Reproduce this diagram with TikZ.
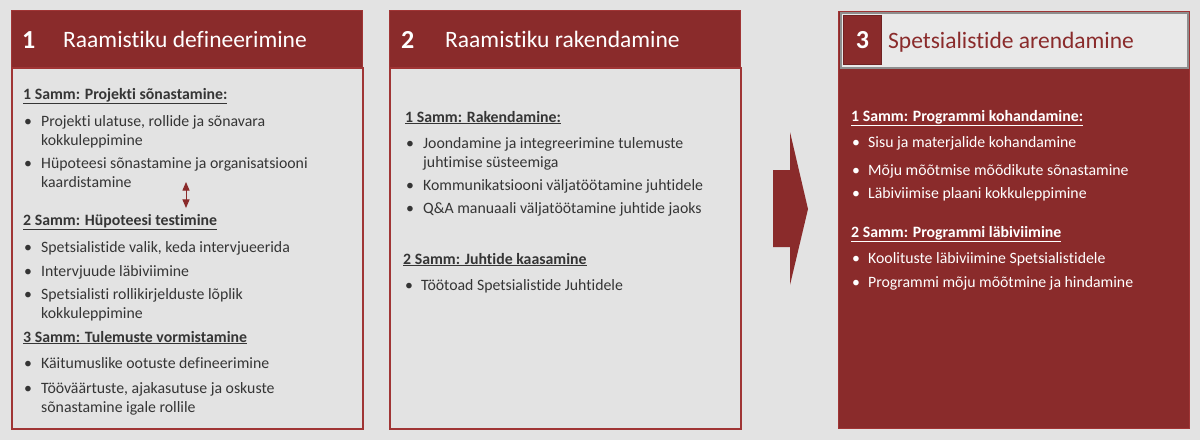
\documentclass[tikz,border=0pt]{standalone}
\usepackage{fontspec}
\setmainfont[Ligatures=NoCommon]{Carlito}
\usepackage{tikz}
\usetikzlibrary{arrows}
\definecolor{rahmred}{HTML}{8A2B2B}
\definecolor{framered}{HTML}{A03535}
\definecolor{pagegray}{HTML}{E3E3E3}
\definecolor{textgray}{HTML}{353535}
\definecolor{headgray}{HTML}{E9E9E9}
\definecolor{linegray}{HTML}{8E8E8E}
\tikzstyle{headbar}=[draw=framered,line width=1pt,fill=rahmred,anchor=north west,inner sep=0pt,minimum width=351pt,minimum height=57pt]
\tikzstyle{panel}=[draw=framered,line width=2pt,fill=pagegray,anchor=north west,inner sep=0pt,minimum width=351pt,minimum height=361pt]
\tikzstyle{bignum}=[font=\fontsize{26}{28}\selectfont\bfseries,text=white,anchor=base west,inner sep=0pt]
\tikzstyle{headtext}=[font=\fontsize{23.5}{26}\selectfont,text=white,anchor=base west,inner sep=0pt]
\tikzstyle{stephead}=[font=\fontsize{15.8}{19}\selectfont\bfseries,text=textgray,anchor=base west,inner sep=0pt]
\tikzstyle{bulletline}=[font=\fontsize{15.8}{19}\selectfont,text=textgray,anchor=base west,inner sep=0pt,align=left]
\tikzstyle{bulletdot}=[font=\fontsize{15.8}{19}\selectfont,text=textgray,anchor=base west,inner sep=0pt]

\begin{document}
\begin{tikzpicture}[x=1pt,y=-1pt]

    \fill[pagegray] (0,0) rectangle (1200,440);
    \useasboundingbox (0,0) rectangle (1200,440);

    % panel 1
    \node[panel] (body1) at (11,67) {};
    \node[headbar] (head1) at (11,10) {};
    \node[bignum] (num1) at (22,48) {1};
    \node[headtext] (title1) at (63,47) {Raamistiku defineerimine};

    \node[stephead] (s11) at (23,99) {\underline{1 Samm: Projekti sõnastamine:}};
    \node[stephead] (s12) at (23,225) {\underline{2 Samm: Hüpoteesi testimine}};
    \node[stephead] (s13) at (23,342) {\underline{3 Samm: Tulemuste vormistamine}};

    % first line / last line baselines
    \foreach \y/\yl/\name/\txt in {126/145/a1/{Projekti ulatuse, rollide ja sõnavara\\kokkuleppimine},
        168/187/a2/{Hüpoteesi sõnastamine ja organisatsiooni\\kaardistamine},
        252/252/a3/{Spetsialistide valik, keda intervjueerida},
        276/276/a4/{Intervjuude läbiviimine},
        299/318/a5/{Spetsialisti rollikirjelduste lõplik\\kokkuleppimine},
        368/368/a6/{Käitumuslike ootuste defineerimine},
        393/412/a7/{Tööväärtuste, ajakasutuse ja oskuste\\sõnastamine igale rollile}}
    {
        \node[bulletdot] (\name d) at (24,\y) {•};
        \node[bulletline] (\name) at (41,\yl) {\txt};
    }

    \coordinate (up) at (186,182);
    \coordinate (dn) at (186,208);
    \draw[<->, >=triangle 45, rahmred, line width=1pt] (up) -- (dn);

    % panel 2
    \node[panel] (body2) at (389,67) {};
    \node[headbar] (head2) at (389,10) {};
    \node[bignum] (num2) at (401,48) {2};
    \node[headtext] (title2) at (445,47) {Raamistiku rakendamine};

    \node[stephead] (s21) at (405,122) {\underline{1 Samm: Rakendamine:}};
    \node[stephead] (s22) at (403,264) {\underline{2 Samm: Juhtide kaasamine}};

    \foreach \y/\yl/\name/\txt in {148/167/b1/{Joondamine ja integreerimine tulemuste\\juhtimise süsteemiga},
        190/190/b2/{Kommunikatsiooni väljatöötamine juhtidele},
        213/213/b3/{Q\&A manuaali väljatöötamine juhtide jaoks}}
    {
        \node[bulletdot] (\name d) at (406,\y) {•};
        \node[bulletline] (\name) at (423,\yl) {\txt};
    }
    \node[bulletdot] (b4d) at (405,290) {•};
    \node[bulletline] (b4) at (421,290) {Töötoad Spetsialistide Juhtidele};

    % arrow between 2 and 3
    \fill[rahmred] (773,170) -- (790,170) -- (790,132) -- (808,209)
        -- (790,285) -- (790,247) -- (773,247) -- cycle;

    % panel 3
    \node[draw=framered, line width=1pt, fill=rahmred, anchor=north west, inner sep=0pt,
        minimum width=351pt, minimum height=417pt] (body3) at (838,11) {};
    \node[draw=linegray, line width=1.5pt, fill=headgray, anchor=north west, inner sep=0pt,
        minimum width=347pt, minimum height=55pt] (head3) at (840,12) {};
    \node[draw=rahmred!80!black, line width=0.8pt, fill=rahmred, anchor=north west, inner sep=0pt,
        minimum width=38pt, minimum height=49pt] (box3) at (843,15) {};
    \node[bignum, anchor=center] (num3) at (box3.center) {3};
    \node[headtext, text=rahmred] (title3) at (888,48) {Spetsialistide arendamine};

    \node[stephead, text=white] (s31) at (851,121) {\underline{1 Samm: Programmi kohandamine:}};
    \node[stephead, text=white] (s32) at (851,237) {\underline{2 Samm: Programmi läbiviimine}};

    \foreach \y/\name/\txt in {147/c1/{Sisu ja materjalide kohandamine},
        175/c2/{Mõju mõõtmise mõõdikute sõnastamine},
        198/c3/{Läbiviimise plaani kokkuleppimine},
        263/c4/{Koolituste läbiviimine Spetsialistidele},
        287/c5/{Programmi mõju mõõtmine ja hindamine}}
    {
        \node[bulletdot, text=white] (\name d) at (852,\y) {•};
        \node[bulletline, text=white] (\name) at (868,\y) {\txt};
    }

\end{tikzpicture}
\end{document}
